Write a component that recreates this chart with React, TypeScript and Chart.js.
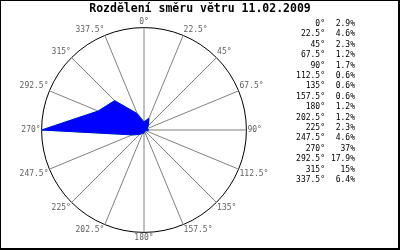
import React, { useEffect, useRef } from "react";
import { Chart, registerables } from "chart.js";

Chart.register(...registerables);

const TITLE = "Rozdělení směru větru 11.02.2009";
const directions = ["0°", "22.5°", "45°", "67.5°", "90°", "112.5°", "135°", "157.5°", "180°", "202.5°", "225°", "247.5°", "270°", "292.5°", "315°", "337.5°"];
const shares = [2.9, 4.6, 2.3, 1.2, 1.7, 0.6, 0.6, 0.6, 1.2, 1.2, 2.3, 4.6, 37, 17.9, 15, 6.4];
const scaleMax = 37;

const MONO = "'DejaVu Sans Mono', 'Liberation Mono', monospace";

const extrasPlugin = {
  id: "extras",
  afterDraw(chart: any) {
    const ctx = chart.ctx as CanvasRenderingContext2D;
    ctx.save();
    // title
    ctx.fillStyle = "#000";
    ctx.font = `bold 11.5px ${MONO}`;
    ctx.textAlign = "center";
    ctx.textBaseline = "middle";
    ctx.fillText(TITLE, 200, 9);
    // legend table
    ctx.font = `8px ${MONO}`;
    ctx.fillStyle = "#000";
    ctx.textBaseline = "middle";
    directions.forEach((d, i) => {
      const y = 24 + i * 10.4;
      ctx.textAlign = "right";
      ctx.fillText(d, 325, y);
      ctx.fillText(`${shares[i]}%`, 355, y);
    });
    // frame
    ctx.fillStyle = "#000";
    ctx.fillRect(0, 0, 400, 1);
    ctx.fillRect(0, 0, 1, 250);
    ctx.fillRect(398, 0, 2, 250);
    ctx.fillRect(0, 248, 400, 2);
    ctx.restore();
  },
};

export default function App() {
  const ref = useRef<HTMLCanvasElement | null>(null);
  useEffect(() => {
    if (!ref.current) return;
    const chart = new Chart(ref.current, {
      type: "radar",
      data: {
        labels: directions,
        datasets: [
          {
            data: shares,
            fill: true,
            backgroundColor: "#0000ff",
            borderColor: "#0000ff",
            borderWidth: 1,
            pointRadius: 0,
            order: 1,
          },
          {
            data: shares,
            fill: false,
            backgroundColor: "rgba(0,0,0,0)",
            borderColor: "#00ff00",
            borderWidth: 1,
            pointRadius: 0,
            order: 2,
          },
        ],
      },
      options: {
        responsive: false,
        animation: false,
        layout: { padding: { left: 0, right: 112, top: 17, bottom: 6 } },
        plugins: { legend: { display: false }, tooltip: { enabled: false }, title: { display: false } },
        elements: { line: { tension: 0 } },
        scales: {
          r: {
            min: 0,
            max: scaleMax,
            ticks: { display: false, stepSize: scaleMax },
            grid: { circular: true, color: "#000", lineWidth: 1 },
            angleLines: { color: "#808080", lineWidth: 1 },
            pointLabels: { font: { family: MONO, size: 8 }, color: "#606060", padding: 1 },
          },
        },
      },
      plugins: [extrasPlugin],
    });
    return () => chart.destroy();
  }, []);
  return (
    <div style={{ position: "fixed", left: 0, top: 0, width: 400, height: 250, background: "#fff" }}>
      <canvas ref={ref} width={400} height={250} style={{ display: "block" }} />
    </div>
  );
}
